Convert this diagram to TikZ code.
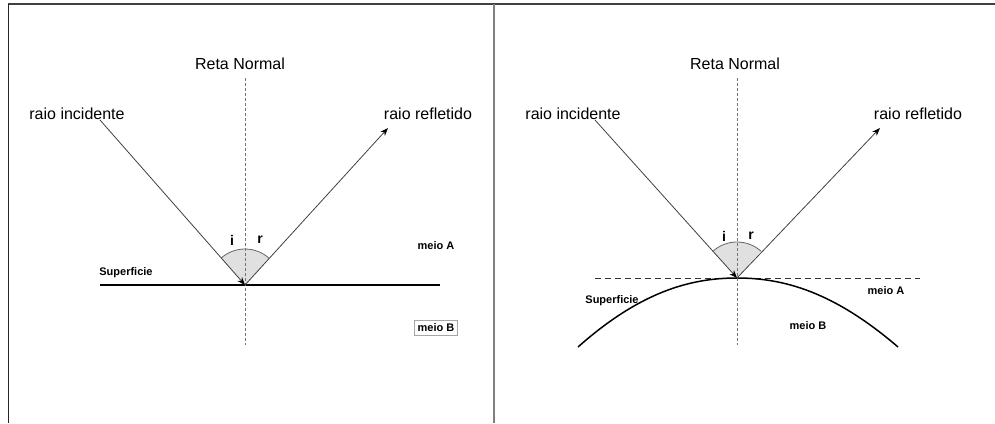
\documentclass[tikz,border=0pt]{standalone}
\usepackage{fontspec}
\setmainfont{Liberation Sans}
\usetikzlibrary{arrows.meta}
\begin{document}
\begin{tikzpicture}[x=1pt,y=-1pt,
  lbl/.style={font=\fontsize{16}{18}\selectfont, inner sep=0pt},
  small/.style={font=\fontsize{11}{13}\selectfont\bfseries, inner sep=0pt},
  angl/.style={font=\fontsize{14}{16}\selectfont\bfseries, inner sep=0pt},
  ray/.style={draw=black!75, line width=0.8pt},
  tip/.style={-{Stealth[length=8pt,width=6pt,black]}},
  normal/.style={draw=black!55, dashed, dash pattern=on 3pt off 2pt, line width=0.7pt},
  tangent/.style={draw=black!80, dash pattern=on 6pt off 4pt, line width=0.8pt},
  surf/.style={draw=black, line width=1.5pt}]
\useasboundingbox (0,0) rectangle (995,423);
% frame
\draw[black!75, line width=1.6pt] (8,4) -- (995,4);
\draw[black!85, line width=1pt] (8,4) -- (8,423);
\draw[black!50, line width=2pt] (494,4) -- (494,423);

% ---------- left panel ----------
\coordinate (O1) at (245,285);
\coordinate (IA) at (100,120);
\coordinate (RA) at (388,128);
\coordinate (N1a) at (245,78);
\coordinate (N1b) at (245,345);
\coordinate (S1a) at (100,285);
\coordinate (S1b) at (440,285);
\fill[black!12] (O1) -- ++(-131.3:36) arc[start angle=-131.3, end angle=-47.7, radius=36] -- cycle;
\draw[black!60, line width=0.8pt] (O1) ++(-131.3:36) arc[start angle=-131.3, end angle=-47.7, radius=36];
\draw[surf] (S1a) -- (S1b);
\draw[normal] (N1a) -- (N1b);
\draw[ray, tip] (IA) -- (O1);
\draw[ray, tip] (O1) -- (RA);
\node[lbl] (tn1) at (240,64) {Reta Normal};
\node[lbl] (ti1) at (77,114) {raio incidente};
\node[lbl] (tr1) at (428,114) {raio refletido};
\node[small] (ts1) at (126,273) {Superficie};
\node[small] (ma1) at (436,246) {meio A};
\node[small, draw=black!35, fill=white, inner sep=3.5pt, line width=0.7pt] (mb1) at (436,328) {meio B};
\node[angl] (i1) at (232,240) {i};
\node[angl] (r1) at (260,240) {r};

% ---------- right panel ----------
\coordinate (O2) at (737,278);
\coordinate (IB) at (595,120);
\coordinate (RB) at (880,128);
\coordinate (N2a) at (737,78);
\coordinate (N2b) at (737,345);
\coordinate (T2a) at (595,278);
\coordinate (T2b) at (920,278);
\fill[black!12] (O2) -- ++(-131.9:36) arc[start angle=-131.9, end angle=-48.3, radius=36] -- cycle;
\draw[black!60, line width=0.8pt] (O2) ++(-131.9:36) arc[start angle=-131.9, end angle=-48.3, radius=36];
\draw[tangent] (T2a) -- (T2b);
\draw[surf] (578,347) .. controls (640,292) and (690,278) .. (O2) .. controls (784,278) and (834,292) .. (898,347);
\draw[normal] (N2a) -- (N2b);
\draw[ray, tip] (IB) -- (O2);
\draw[ray, tip] (O2) -- (RB);
\node[lbl] (tn2) at (735,64) {Reta Normal};
\node[lbl] (ti2) at (573,114) {raio incidente};
\node[lbl] (tr2) at (918,114) {raio refletido};
\node[small] (ts2) at (612,301) {Superficie};
\node[small] (ma2) at (886,291) {meio A};
\node[small] (mb2) at (808,326) {meio B};
\node[angl] (i2) at (724,236) {i};
\node[angl] (r2) at (751,236) {r};
\end{tikzpicture}
\end{document}
